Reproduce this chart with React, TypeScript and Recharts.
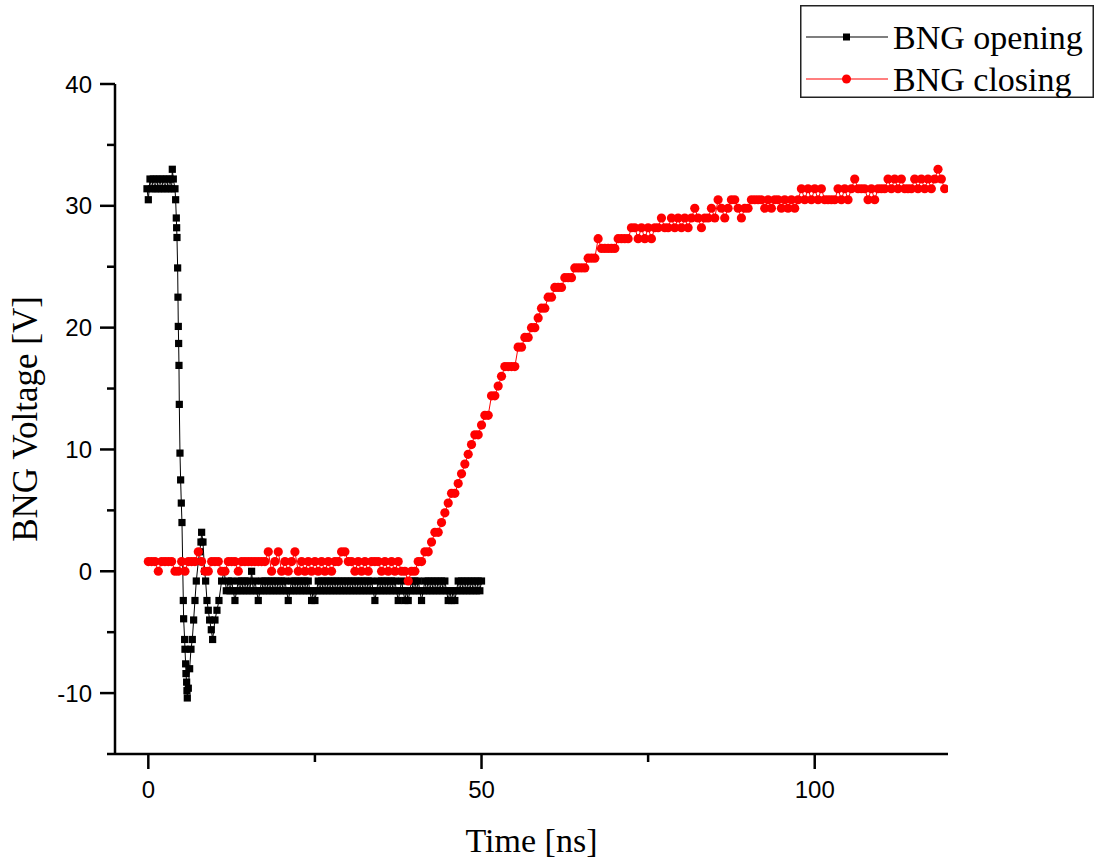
import React from 'react';
import { LineChart, Line, XAxis, YAxis, Legend, Label } from 'recharts';

// ---------------- data ----------------
// BNG closing (red): sampled every 0.5 ns from 0 ns
const RED_START = 0;
const RED_STEP = 0.5;
const redVoltage = [
  0.8, 0.8, 0.8, 0, 0.8, 0.8, 0.8, 0.8, 0, 0, // 0 - 4.5
  0.8, 0, 0.8, 0.8, 0.8, 1.6, 0.8, 0, 0, 0.8, // 5 - 9.5
  0.8, 0.8, 0, 0, 0.8, 0.8, 0.8, 0, 0.8, 0.8, // 10 - 14.5
  0.8, 0.8, 0.8, 0.8, 0.8, 0.8, 1.6, 0, 0.8, 1.6, // 15 - 19.5
  0, 0.8, 0, 0.8, 1.6, 0, 0.8, 0, 0.8, 0, // 20 - 24.5
  0.8, 0, 0.8, 0, 0.8, 0, 0.8, 0.8, 1.6, 1.6, // 25 - 29.5
  0.8, 0.8, 0, 0.8, 0, 0.8, 0, 0.8, 0.8, 0.8, // 30 - 34.5
  0, 0.8, 0, 0.8, 0, 0.8, 0, 0, -0.8, 0, // 35 - 39.5
  0, 0.8, 0.8, 1.6, 1.6, 2.4, 3.2, 3.2, 4.0, 4.8, // 40 - 44.5
  5.6, 6.4, 6.4, 7.2, 8.0, 8.8, 9.6, 10.4, 11.2, 11.2, // 45 - 49.5
  12.0, 12.8, 12.8, 14.4, 14.4, 15.2, 16.0, 16.8, 16.8, 16.8, // 50 - 54.5
  16.8, 18.4, 18.4, 19.2, 19.2, 20.0, 20.0, 20.8, 21.6, 21.6, // 55 - 59.5
  22.5, 22.5, 23.3, 23.3, 23.3, 24.1, 24.1, 24.1, 24.9, 24.9, // 60 - 64.5
  24.9, 24.9, 25.7, 25.7, 25.7, 27.3, 26.5, 26.5, 26.5, 26.5, // 65 - 69.5
  26.5, 27.3, 27.3, 27.3, 27.3, 28.2, 28.2, 27.3, 28.2, 27.3, // 70 - 74.5
  28.2, 27.3, 28.2, 28.2, 29.0, 28.2, 28.2, 29.0, 28.2, 29.0, // 75 - 79.5
  28.2, 29.0, 28.2, 29.0, 29.8, 29.0, 28.2, 29.0, 29.0, 29.8, // 80 - 84.5
  29.0, 30.5, 29.8, 29.0, 29.8, 30.5, 30.5, 29.8, 29.0, 29.8, // 85 - 89.5
  29.8, 30.5, 30.5, 30.5, 30.5, 29.8, 30.5, 29.8, 30.5, 30.5, // 90 - 94.5
  29.8, 30.5, 29.8, 30.5, 29.8, 30.5, 31.4, 30.5, 31.4, 30.5, // 95 - 99.5
  31.4, 30.5, 31.4, 30.5, 30.5, 30.5, 30.5, 31.4, 30.5, 31.4, // 100 - 104.5
  30.5, 31.4, 32.2, 31.4, 31.4, 31.4, 30.5, 31.4, 30.5, 31.4, // 105 - 109.5
  31.4, 31.4, 32.2, 31.4, 32.2, 31.4, 32.2, 31.4, 31.4, 31.4, // 110 - 114.5
  32.2, 31.4, 32.2, 31.4, 32.2, 31.4, 32.2, 33.0, 32.2, 31.4, // 115 - 119.5
];

// BNG opening (black): fast transient, read point by point
const blackEarlyTime = [
  -0.2, 0, 0.25, 0.5, 0.75, 1, 1.25, 1.5, 1.75, 2, 2.25, 2.5, 2.75, 3, 3.25, 3.5, 3.6, 3.75, 4,
  4.1, 4.2, 4.25, 4.3, 4.4, 4.45, 4.5, 4.55, 4.6, 4.65, 4.75, 4.85, 4.95, 5.05,
  5.25, 5.3, 5.45, 5.5, 5.6, 5.65, 5.75, 5.8, 5.85,
  6.0, 6.2, 6.4, 6.6, 6.8, 7.0, 7.2, 7.5, 7.7, 7.9, 8.0, 8.2,
  8.45, 8.6, 8.8, 9.0, 9.2, 9.45, 9.65,
  10.0, 10.3, 10.6, 11.0, 11.4, 11.7,
];
const blackEarlyVoltage = [
  31.4, 30.5, 32.2, 31.4, 32.2, 31.4, 32.2, 31.4, 32.2, 31.4, 32.2, 31.4, 32.2, 31.4, 32.2, 31.4, 33.0, 32.2, 31.4,
  30.5, 29.0, 28.2, 27.4, 24.9, 22.5, 20.1, 18.7, 16.9, 13.7, 9.7, 7.5, 5.6, 4.0,
  -2.4, -3.9, -5.6, -6.4, -7.6, -8.4, -9.1, -9.8, -10.4,
  -9.6, -8.0, -6.4, -5.6, -4.0, -2.4, -0.8, 0.8, 1.6, 2.4, 3.2, 2.4,
  0, -0.8, -2.4, -3.2, -4.0, -4.8, -5.6,
  -4.0, -3.2, -2.4, -0.8, 0, -1.6,
];
// BNG opening (black): settled part, every 0.25 ns from 12 ns to 50 ns
const BLACK_NOISE_START = 12;
const BLACK_NOISE_STEP = 0.25;
const blackNoiseVoltage = [
  -0.8, -1.6, -0.8, -1.6, -2.4, -1.6, -0.8, -1.6, // 12 - 13.75
  -0.8, -1.6, -0.8, -1.6, -0.8, -1.6, 0, -1.6, // 14 - 15.75
  -0.8, -1.6, -2.4, -1.6, -0.8, -1.6, -0.8, -1.6, // 16 - 17.75
  -0.8, -1.6, -0.8, -1.6, -0.8, -1.6, -0.8, -1.6, // 18 - 19.75
  -0.8, -1.6, -0.8, -1.6, -2.4, -1.6, -0.8, -1.6, // 20 - 21.75
  -0.8, -1.6, -0.8, -1.6, -0.8, -1.6, -0.8, -1.6, // 22 - 23.75
  -0.8, -1.6, -2.4, -1.6, -2.4, -1.6, -0.8, -1.6, // 24 - 25.75
  -0.8, -1.6, -0.8, -1.6, -0.8, -1.6, -0.8, -1.6, // 26 - 27.75
  -0.8, -1.6, -0.8, -1.6, -0.8, -1.6, -0.8, -1.6, // 28 - 29.75
  -0.8, -1.6, -0.8, -1.6, -0.8, -1.6, -0.8, -1.6, // 30 - 31.75
  -0.8, -1.6, -0.8, -1.6, -0.8, -1.6, -0.8, -1.6, // 32 - 33.75
  -2.4, -1.6, -0.8, -1.6, -0.8, -1.6, -0.8, -1.6, // 34 - 35.75
  -0.8, -1.6, -0.8, -1.6, -0.8, -1.6, -2.4, -1.6, // 36 - 37.75
  -0.8, -1.6, -2.4, -1.6, -2.4, -1.6, -0.8, -1.6, // 38 - 39.75
  -0.8, -1.6, -0.8, -1.6, -2.4, -1.6, -0.8, -1.6, // 40 - 41.75
  -0.8, -1.6, -0.8, -1.6, -0.8, -1.6, -0.8, -1.6, // 42 - 43.75
  -0.8, -1.6, -0.8, -1.6, -2.4, -1.6, -2.4, -1.6, // 44 - 45.75
  -2.4, -1.6, -0.8, -1.6, -0.8, -1.6, -0.8, -1.6, // 46 - 47.75
  -0.8, -1.6, -0.8, -1.6, -0.8, -1.6, -0.8, -1.6, // 48 - 49.75
  -0.8, // 50
];

const SERIES_OPEN = 'BNG opening';
const SERIES_CLOSE = 'BNG closing';
const legendOrder = [SERIES_OPEN, SERIES_CLOSE];

const xDomain = [-5, 120];
const yDomain = [-15, 40];
const xTicks = [0, 25, 50, 75, 100];
const xLabeledTicks = [0, 50, 100];
const yTicks = [-15, -10, -5, 0, 5, 10, 15, 20, 25, 30, 35, 40];
const yLabeledTicks = [-10, 0, 10, 20, 30, 40];

const redData = redVoltage.map((v, i) => ({ t: RED_START + i * RED_STEP, v }));
const blackData = [
  ...blackEarlyTime.map((t, i) => ({ t, v: blackEarlyVoltage[i] })),
  ...blackNoiseVoltage.map((v, i) => ({ t: BLACK_NOISE_START + i * BLACK_NOISE_STEP, v })),
];

// ---------------- styling ----------------
const SANS = '"Liberation Sans", Arial, sans-serif';
const SERIF = '"Liberation Serif", "Times New Roman", serif';
const AXIS_W = 2.5;
const SQ = 7.2;
const DOT_R = 4.6;

const XTick = (props: any) => {
  const { x, y, payload } = props;
  const major = xLabeledTicks.includes(payload.value);
  return (
    <g>
      <line x1={x} x2={x} y1={y} y2={y + (major ? 15 : 8)} stroke="#000" strokeWidth={AXIS_W} />
      {major && (
        <text x={x} y={y + 44} textAnchor="middle" fontFamily={SANS} fontSize={24} fill="#000">
          {payload.value}
        </text>
      )}
    </g>
  );
};

const YTick = (props: any) => {
  const { x, y, payload } = props;
  const major = yLabeledTicks.includes(payload.value);
  return (
    <g>
      <line x1={x - (major ? 15 : 8)} x2={x} y1={y} y2={y} stroke="#000" strokeWidth={AXIS_W} />
      {major && (
        <text x={x - 23} y={y + 8.5} textAnchor="end" fontFamily={SANS} fontSize={24} fill="#000">
          {payload.value}
        </text>
      )}
    </g>
  );
};

const BlackSquare = (props: any) => {
  const { cx, cy, index } = props;
  if (cx == null || cy == null) return <g key={`bs-${index}`} />;
  return <rect key={`bs-${index}`} x={cx - SQ / 2} y={cy - SQ / 2} width={SQ} height={SQ} fill="#000" />;
};

const RedDot = (props: any) => {
  const { cx, cy, index } = props;
  if (cx == null || cy == null) return <g key={`rd-${index}`} />;
  return <circle key={`rd-${index}`} cx={cx} cy={cy} r={DOT_R} fill="#ff0000" />;
};

const LegendBox = (props: any) => {
  const payload = [...(props.payload || [])].sort(
    (a: any, b: any) => legendOrder.indexOf(a.value) - legendOrder.indexOf(b.value)
  );
  const rows = [
    { lineY: 32, textY: 44 },
    { lineY: 74, textY: 86 },
  ];
  return (
    <svg width={294} height={93} style={{ display: 'block' }}>
      <rect x={0.75} y={0.75} width={292.5} height={91.5} fill="#fff" stroke="#222" strokeWidth={1.5} />
      {payload.map((entry: any, i: number) => {
        const r = rows[i] || rows[0];
        const color = entry.color;
        const isOpen = entry.value === SERIES_OPEN;
        return (
          <g key={`lg-${i}`}>
            <line x1={6} x2={88} y1={r.lineY} y2={r.lineY} stroke={color} strokeWidth={1.2} />
            {isOpen ? (
              <rect x={43} y={r.lineY - 3.5} width={7} height={7} fill={color} />
            ) : (
              <circle cx={46.5} cy={r.lineY} r={4.5} fill={color} />
            )}
            <text x={93} y={r.textY} fontFamily={SERIF} fontSize={34} fill="#000">
              {entry.value}
            </text>
          </g>
        );
      })}
    </svg>
  );
};

export default function App() {
  return (
    <div style={{ position: 'absolute', left: 0, top: 0, width: 1096, height: 862, background: '#fff' }}>
      <LineChart width={1096} height={862} margin={{ top: 84, right: 148, bottom: 48, left: 15 }}>
        <XAxis
          type="number"
          dataKey="t"
          domain={xDomain}
          ticks={xTicks}
          interval={0}
          allowDataOverflow
          height={60}
          tickSize={0}
          tickMargin={0}
          tickLine={false}
          axisLine={{ stroke: '#000', strokeWidth: AXIS_W }}
          tick={<XTick />}
        >
          <Label
            content={(p: any) => {
              const vb = p.viewBox || {};
              return (
                <text
                  x={vb.x + vb.width / 2}
                  y={vb.y + 98}
                  textAnchor="middle"
                  fontFamily={SERIF}
                  fontSize={34}
                  fill="#000"
                >
                  Time [ns]
                </text>
              );
            }}
          />
        </XAxis>
        <YAxis
          type="number"
          domain={yDomain}
          ticks={yTicks}
          interval={0}
          allowDataOverflow
          width={100}
          tickSize={0}
          tickMargin={0}
          tickLine={false}
          axisLine={{ stroke: '#000', strokeWidth: AXIS_W }}
          tick={<YTick />}
        >
          <Label
            content={(p: any) => {
              const vb = p.viewBox || {};
              const cx = vb.x + 22;
              const cy = vb.y + vb.height / 2;
              return (
                <text
                  x={cx}
                  y={cy}
                  transform={`rotate(-90 ${cx} ${cy})`}
                  textAnchor="middle"
                  fontFamily={SERIF}
                  fontSize={35}
                  fill="#000"
                >
                  BNG Voltage [V]
                </text>
              );
            }}
          />
        </YAxis>
        <Legend
          layout="vertical"
          align="center"
          verticalAlign="middle"
          wrapperStyle={{ left: 800, top: 5, width: 294, height: 93 }}
          content={<LegendBox />}
        />
        <Line
          data={blackData}
          dataKey="v"
          name={SERIES_OPEN}
          type="linear"
          stroke="#000"
          strokeWidth={1}
          dot={BlackSquare}
          activeDot={false}
          isAnimationActive={false}
        />
        <Line
          data={redData}
          dataKey="v"
          name={SERIES_CLOSE}
          type="linear"
          stroke="#ff0000"
          strokeWidth={1}
          dot={RedDot}
          activeDot={false}
          isAnimationActive={false}
        />
      </LineChart>
    </div>
  );
}
